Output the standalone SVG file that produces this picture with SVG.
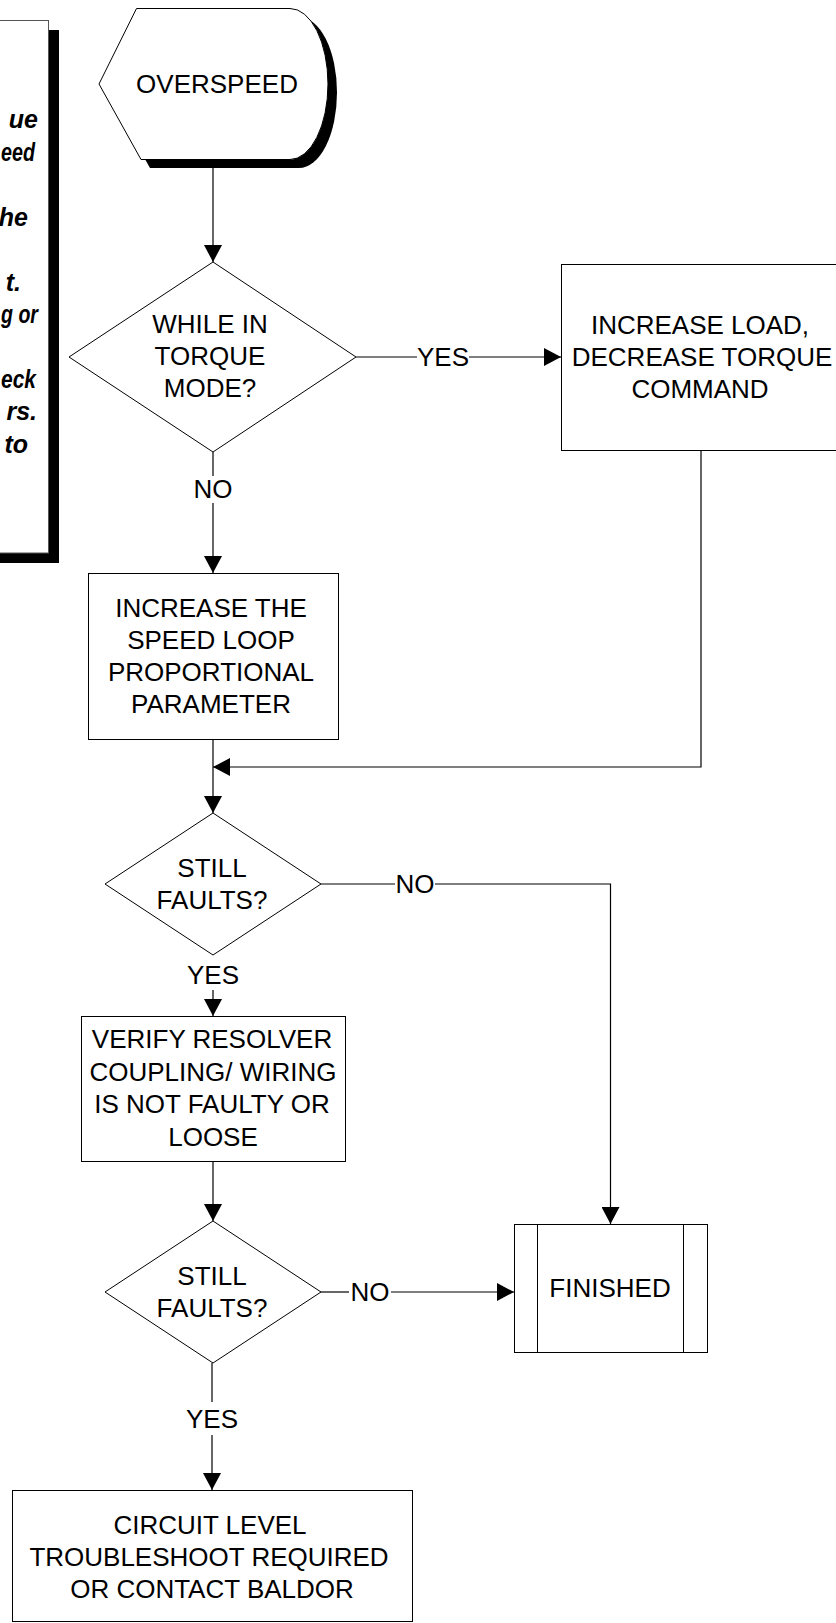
<svg xmlns="http://www.w3.org/2000/svg" width="836" height="1623" viewBox="0 0 836 1623">
<style>
.t{font-family:"Liberation Sans",Arial,sans-serif;font-size:26px;fill:#000;text-anchor:middle}
.n{font-family:"Liberation Sans",Arial,sans-serif;font-size:25px;font-weight:bold;font-style:italic;fill:#000;text-anchor:end}
.m{font-family:"Liberation Sans",Arial,sans-serif;font-size:25px;font-weight:bold;font-style:italic;fill:#000;text-anchor:start}
.s{fill:#fff;stroke:#000;stroke-width:1}
.c{fill:none;stroke:#000;stroke-width:1.2}
</style>
<defs>
<marker id="ah" markerUnits="userSpaceOnUse" markerWidth="18" markerHeight="18" viewBox="0 0 18 18" refX="17" refY="9" orient="auto">
<path d="M0,0 L17,9 L0,18 Z" fill="#000"/>
</marker>
</defs>
<rect width="836" height="1623" fill="#fff"/>

<g id="note">
<rect x="-300" y="30" width="359" height="533" fill="#000"/>
<rect x="-300" y="20.5" width="348.5" height="532.5" fill="#fff" stroke="#555" stroke-width="1"/>
<text class="n" x="38" y="128">ue</text>
<text class="m" x="1" y="161" textLength="34" lengthAdjust="spacingAndGlyphs">eed</text>
<text class="n" x="28" y="226">he</text>
<text class="n" x="21" y="291">t.</text>
<text class="m" x="1" y="323" textLength="37" lengthAdjust="spacingAndGlyphs">g or</text>
<text class="m" x="1" y="388" textLength="35" lengthAdjust="spacingAndGlyphs">eck</text>
<text class="n" x="37" y="420">rs.</text>
<text class="n" x="28" y="453">to</text>
</g>

<g id="overspeed">
<path d="M145,17 L299,17 A38,75.5 0 0 1 299,168 L150,168 L108,93 Z" fill="#000"/>
<path class="s" d="M136.5,8.5 L290,8.5 A38,75.5 0 0 1 290,159.5 L141,159.5 L99,84 Z"/>
<text class="t" x="217" y="93">OVERSPEED</text>
</g>

<g id="d1">
<polygon class="s" points="213,262 356,357 213,452 69,357"/>
<text class="t" x="210" y="333">WHILE IN</text>
<text class="t" x="210" y="365">TORQUE</text>
<text class="t" x="210" y="397">MODE?</text>
</g>

<g id="b_load">
<rect class="s" x="561.5" y="264.5" width="300" height="186"/>
<text class="t" x="700" y="334">INCREASE LOAD,</text>
<text class="t" x="702" y="366">DECREASE TORQUE</text>
<text class="t" x="700" y="398">COMMAND</text>
</g>

<g id="b_speed">
<rect class="s" x="88.5" y="573.5" width="250" height="166"/>
<text class="t" x="211" y="617">INCREASE THE</text>
<text class="t" x="211" y="649">SPEED LOOP</text>
<text class="t" x="211" y="681">PROPORTIONAL</text>
<text class="t" x="211" y="713">PARAMETER</text>
</g>

<g id="d2">
<polygon class="s" points="213,813 321,884 213,955 105,884"/>
<text class="t" x="212" y="877">STILL</text>
<text class="t" x="212" y="909">FAULTS?</text>
</g>

<g id="b_verify">
<rect class="s" x="81.5" y="1016.5" width="264" height="145"/>
<text class="t" x="212" y="1048">VERIFY RESOLVER</text>
<text class="t" x="213" y="1081">COUPLING/ WIRING</text>
<text class="t" x="212" y="1113">IS NOT FAULTY OR</text>
<text class="t" x="213" y="1146">LOOSE</text>
</g>

<g id="d3">
<polygon class="s" points="213,1221 321,1292 213,1363 105,1292"/>
<text class="t" x="212" y="1285">STILL</text>
<text class="t" x="212" y="1317">FAULTS?</text>
</g>

<g id="finished">
<rect class="s" x="514.5" y="1224.5" width="193" height="128"/>
<line x1="537.5" y1="1224.5" x2="537.5" y2="1352.5" stroke="#000" stroke-width="1"/>
<line x1="683.5" y1="1224.5" x2="683.5" y2="1352.5" stroke="#000" stroke-width="1"/>
<text class="t" x="610" y="1297">FINISHED</text>
</g>

<g id="b_circuit">
<rect class="s" x="12.5" y="1490.5" width="400" height="131"/>
<text class="t" x="210" y="1534">CIRCUIT LEVEL</text>
<text class="t" x="209" y="1566">TROUBLESHOOT REQUIRED</text>
<text class="t" x="212" y="1598">OR CONTACT BALDOR</text>
</g>

<g id="connectors">
<line class="c" x1="213" y1="168" x2="213" y2="262" marker-end="url(#ah)"/>
<line class="c" x1="356" y1="357" x2="417" y2="357"/>
<text class="t" x="443" y="366">YES</text>
<line class="c" x1="469" y1="357" x2="561" y2="357" marker-end="url(#ah)"/>
<line class="c" x1="213" y1="452" x2="213" y2="476"/>
<text class="t" x="213" y="498">NO</text>
<line class="c" x1="213" y1="503" x2="213" y2="573" marker-end="url(#ah)"/>
<line class="c" x1="213" y1="739" x2="213" y2="813" marker-end="url(#ah)"/>
<polyline class="c" points="701,450 701,767 213,767" marker-end="url(#ah)"/>
<line class="c" x1="321" y1="884" x2="395" y2="884"/>
<text class="t" x="415" y="893">NO</text>
<polyline class="c" points="435,884 610.5,884 610.5,1224" marker-end="url(#ah)"/>
<text class="t" x="213" y="984">YES</text>
<line class="c" x1="213" y1="990" x2="213" y2="1016" marker-end="url(#ah)"/>
<line class="c" x1="213" y1="1161" x2="213" y2="1221" marker-end="url(#ah)"/>
<line class="c" x1="321" y1="1292" x2="349" y2="1292"/>
<text class="t" x="370" y="1301">NO</text>
<line class="c" x1="391" y1="1292" x2="514" y2="1292" marker-end="url(#ah)"/>
<line class="c" x1="212" y1="1363" x2="212" y2="1402"/>
<text class="t" x="212" y="1428">YES</text>
<line class="c" x1="212" y1="1435" x2="212" y2="1490" marker-end="url(#ah)"/>
</g>
</svg>
